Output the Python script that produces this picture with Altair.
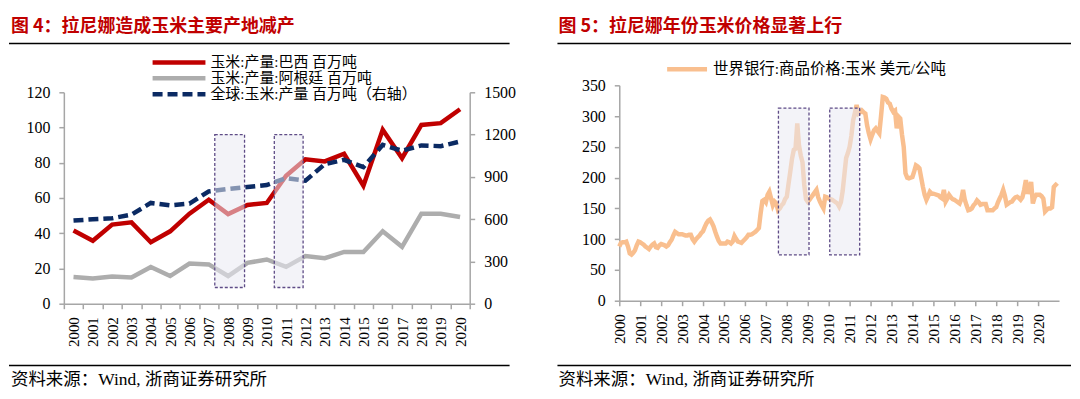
import altair as alt
import pandas as pd

# ---------------- data: left panel (annual production) ----------------
years = list(range(2000, 2021))
brazil = [41.5, 35.7, 44.9, 46.2, 34.9, 41.1, 51.1, 59.0, 50.9, 56.0, 57.2,
          72.6, 82.0, 80.8, 85.1, 67.0, 98.7, 82.6, 101.5, 102.5, 110.4]
argentina = [15.1, 14.3, 15.5, 14.9, 20.8, 15.7, 22.8, 22.3, 15.7, 23.2, 25.1,
             20.9, 27.0, 25.8, 29.4, 29.4, 41.1, 32.3, 51.1, 51.1, 49.2]
world = [590, 599, 606, 632, 715, 698, 710, 797, 814, 828, 842,
         891, 873, 990, 1021, 969, 1127, 1085, 1123, 1118, 1151]
left_series = ["玉米:产量:巴西 百万吨", "玉米:产量:阿根廷 百万吨", "全球:玉米:产量 百万吨（右轴）"]
left_colors = ["#C00000", "#ADADAD", "#0B2A63"]
left_box_start = [2007.31, 2010.39]
left_box_end = [2008.85, 2011.88]
left_box_top = [1200, 1200]
left_box_bottom = [115, 115]

# ---------------- data: right panel (monthly price) ----------------
price_start_year = 2000
corn_price = [
    88, 94, 95, 95, 96, 88, 77, 75, 78, 82, 90, 96,          # 2000
    95, 93, 91, 88, 86, 84, 88, 91, 93, 87, 86, 90,          # 2001
    92, 91, 90, 88, 90, 95, 99, 106, 112, 110, 108, 108,     # 2002
    108, 107, 106, 106, 107, 107, 100, 96, 100, 103, 106, 110,  # 2003
    113, 120, 126, 130, 132, 127, 121, 112, 104, 97, 93, 93,    # 2004
    93, 93, 96, 95, 93, 96, 105, 100, 96, 95, 94, 97,        # 2005
    100, 103, 107, 107, 108, 110, 112, 115, 118, 142, 162, 164,  # 2006
    160, 172, 177, 166, 155, 161, 158, 147, 150, 155, 158, 165,  # 2007
    169, 190, 210, 231, 245, 247, 288, 252, 236, 225, 188, 165,  # 2008
    161, 164, 168, 172, 176, 180, 168, 161, 155, 150, 169, 168,  # 2009
    166, 165, 164, 162, 160, 158, 153, 160, 178, 205, 232, 240,  # 2010
    250, 268, 293, 305, 318, 304, 306, 309, 306, 304, 285, 272,  # 2011
    262, 270, 277, 280, 276, 272, 300, 331, 330, 328, 322, 320,  # 2012
    312, 307, 309, 280, 299, 296, 270, 250, 207, 200, 199, 200,  # 2013
    201, 210, 220, 218, 215, 200, 185, 172, 164, 170, 177, 174,  # 2014
    174, 173, 172, 171, 168, 166, 180, 161, 166, 172, 168, 165,  # 2015
    164, 162, 160, 158, 165, 180, 164, 155, 147, 148, 150, 155,  # 2016
    158, 163, 160, 156, 157, 157, 157, 147, 147, 147, 147, 150,  # 2017
    152, 160, 166, 172, 180, 170, 156, 158, 160, 161, 165, 168,  # 2018
    169, 167, 164, 168, 180, 196, 174, 182, 193, 158, 168, 172,  # 2019
    172, 172, 170, 166, 145, 148, 150, 150, 152, 185, 188, 191,  # 2020
]
right_series = ["世界银行:商品价格:玉米 美元/公吨"]
right_color = "#F9BF8F"
right_box_start = [2007.60, 2010.05]
right_box_end = [2009.06, 2011.48]
right_box_top = [313, 313]
right_box_bottom = [74.5, 74.5]

left_title = "图 4：拉尼娜造成玉米主要产地减产"
right_title = "图 5：拉尼娜年份玉米价格显著上行"
source_text = "资料来源：Wind, 浙商证券研究所"

# ---------------- styling ----------------
CJK = "Noto Sans CJK SC"
SERIF_CJK = "Liberation Serif, Noto Sans CJK SC"
AX_COLOR = "#A6A6A6"
TITLE_RED = "#C00000"
BOX_FILL = "#E9E9F3"
BOX_STROKE = "#5E4B86"

W_L, H_L = 407, 219      # left plot: y range drawn from 7 to 219 (top aligned with right panel)
W_R, H_R = 441, 216

axis_common = dict(domainColor=AX_COLOR, domainWidth=1.5, tickColor=AX_COLOR,
                   tickWidth=1.5, tickSize=5, labelFont="Liberation Serif",
                   labelColor="black", grid=False, title=None)

one = alt.Data(values=[{}])


def deco_text(txt, x, y, size, color="black", weight="normal", font=SERIF_CJK,
              baseline="alphabetic"):
    return alt.Chart(one).mark_text(
        text=txt, fontSize=size, color=color, fontWeight=weight, font=font,
        align="left", baseline=baseline
    ).encode(x=alt.value(x), y=alt.value(y))


def deco_rule(x1, x2, y, color="black", width=1.5, dash=None, cap="butt"):
    kw = dict(color=color, strokeWidth=width, strokeCap=cap)
    if dash:
        kw["strokeDash"] = dash
    return alt.Chart(one).mark_rule(**kw).encode(
        x=alt.value(x1), x2=alt.value(x2), y=alt.value(y))


# ---------------- left panel ----------------
df_left = pd.DataFrame({"year": years, "brazil": brazil,
                        "argentina": argentina, "world": world})
df_lbox = pd.DataFrame({"start": left_box_start, "end": left_box_end,
                        "top": left_box_top, "bottom": left_box_bottom})

step_l = W_L / len(years)
x_left_scale = alt.Scale(domain=[years[0] - 0.5, years[-1] + 0.5], nice=False, zero=False)
x_left_axis = alt.Axis(values=[y - 0.5 for y in years] + [years[-1] + 0.5],
                       labelExpr=f"datum.value < {years[-1]} ? format(datum.value + 0.5, 'd') : ''",
                       labelOffset=step_l / 2, labelAngle=270, labelAlign="right",
                       labelBaseline="middle", labelPadding=8, labelFlush=False,
                       labelOverlap=False, labelFontSize=15, **axis_common)
x_left = alt.X("year:Q", scale=x_left_scale, axis=x_left_axis)
y_left_axis = alt.Axis(values=list(range(0, 121, 20)), labelPadding=9, format="d",
                       labelFontSize=16, **axis_common)
y_left_scale = alt.Scale(domain=[0, 120], range=[H_L, 7], nice=False)
y_right_axis = alt.Axis(values=list(range(0, 1501, 300)), orient="right", format="d",
                        labelPadding=9, labelFontSize=16, **axis_common)
y_right_scale = alt.Scale(domain=[0, 1500], range=[H_L, 7], nice=False)

gray_line = alt.Chart(df_left).mark_line(color=left_colors[1], strokeWidth=4.5).encode(
    x=x_left, y=alt.Y("argentina:Q", scale=y_left_scale, axis=y_left_axis))
red_line = alt.Chart(df_left).mark_line(color=left_colors[0], strokeWidth=4.5).encode(
    x=x_left, y=alt.Y("brazil:Q", scale=y_left_scale, axis=y_left_axis))
blue_line = alt.Chart(df_left).mark_line(color=left_colors[2], strokeWidth=4.5,
                                         strokeDash=[10, 5]).encode(
    x=x_left, y=alt.Y("world:Q", scale=y_right_scale, axis=y_right_axis))
left_boxes = alt.Chart(df_lbox).mark_rect(
    fill=BOX_FILL, fillOpacity=0.55, stroke=BOX_STROKE, strokeWidth=1.3,
    strokeDash=[3, 2]).encode(
    x=alt.X("start:Q", scale=x_left_scale, axis=x_left_axis),
    x2="end:Q",
    y=alt.Y("top:Q", scale=y_right_scale, axis=y_right_axis),
    y2="bottom:Q")

left_deco = [
    deco_text(left_title, -53, -53, 18, color=TITLE_RED, weight="bold", font=CJK),
    deco_rule(-55, 447, -42),
    deco_rule(-55, 447, 281),
    deco_text(source_text, -53, 301, 17.5),
]
leg_y = [-23, -7, 9]
for i, name in enumerate(left_series):
    left_deco.append(deco_rule(89, 142, leg_y[i], color=left_colors[i], width=4.5,
                               dash=[10, 5] if i == 2 else None))
    left_deco.append(deco_text(name, 147, leg_y[i], 15, baseline="middle"))

left_a = alt.layer(gray_line, red_line)
left_b = alt.layer(blue_line, left_boxes)
left = alt.layer(left_a, left_b, *left_deco).resolve_scale(y="independent").properties(
    width=W_L, height=H_L)

# ---------------- right panel ----------------
df_price = pd.DataFrame({
    "t": [price_start_year + i / 12 for i in range(len(corn_price))],
    "price": corn_price,
})
df_rbox = pd.DataFrame({"start": right_box_start, "end": right_box_end,
                        "top": right_box_top, "bottom": right_box_bottom})
x_right_scale = alt.Scale(domain=[2000, 2021], nice=False, zero=False)
x_right_axis = alt.Axis(values=years, format="d", labelAngle=270, labelAlign="right",
                        labelBaseline="middle", labelPadding=8, labelFlush=False,
                        labelOverlap=False, labelFontSize=15, **axis_common)
y_price_axis = alt.Axis(values=list(range(0, 351, 50)), labelPadding=9, format="d",
                        labelFontSize=16, **axis_common)
y_price_scale = alt.Scale(domain=[0, 350], nice=False)

price_line = alt.Chart(df_price).mark_line(color=right_color, strokeWidth=4.5).encode(
    x=alt.X("t:Q", scale=x_right_scale, axis=x_right_axis),
    y=alt.Y("price:Q", scale=y_price_scale, axis=y_price_axis))
right_boxes = alt.Chart(df_rbox).mark_rect(
    fill=BOX_FILL, fillOpacity=0.55, stroke=BOX_STROKE, strokeWidth=1.3,
    strokeDash=[3, 2]).encode(
    x=alt.X("start:Q", scale=x_right_scale, axis=x_right_axis),
    x2="end:Q",
    y=alt.Y("top:Q", scale=y_price_scale, axis=y_price_axis),
    y2="bottom:Q")

right_deco = [
    deco_text(right_title, -61, -53, 18, color=TITLE_RED, weight="bold", font=CJK),
    deco_rule(-62, 453, -42),
    deco_rule(-62, 453, 281),
    deco_text(source_text, -61, 301, 17.5),
    deco_rule(48, 88, -16, color=right_color, width=4.5),
    deco_text(right_series[0], 94, -16, 15.5, baseline="middle"),
]
right = alt.layer(price_line, right_boxes, *right_deco).properties(width=W_R, height=H_R)

chart = alt.hconcat(left, right, spacing=41).properties(
    padding={"left": 0, "top": 10, "right": 0, "bottom": 0}
).configure_view(stroke=None)

chart.save("out.html", embed_options={"renderer": "svg", "actions": False})
